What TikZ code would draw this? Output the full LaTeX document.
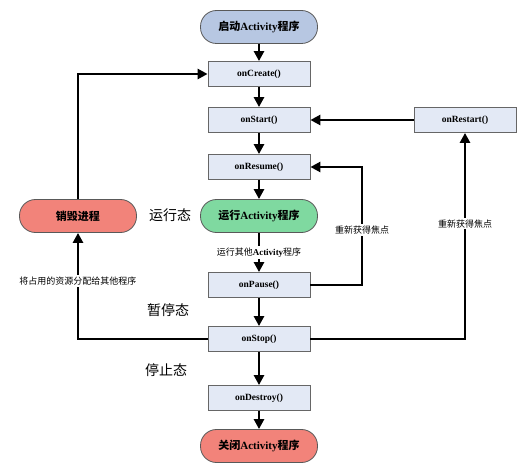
\documentclass[tikz,border=0pt]{standalone}
\usepackage{fontspec}
\setmainfont{Liberation Serif}
\newfontfamily\cjk{Noto Sans CJK SC}
\usetikzlibrary{arrows.meta}
\definecolor{procfill}{HTML}{E3E9F5}
\definecolor{bluepill}{HTML}{B7C7E2}
\definecolor{greenpill}{HTML}{7FD9A0}
\definecolor{redpill}{HTML}{F2837A}
\tikzset{proc/.style={draw=black!60,thick,fill=procfill,minimum width=102pt,minimum height=25pt,font=\bfseries\fontsize{9.5}{10}\selectfont},
pill/.style={draw=black!65,thick,fill=#1,rounded corners=16pt,minimum width=117pt,minimum height=33pt,font=\bfseries\fontsize{11}{12}\selectfont},
arr/.style={-{Triangle[length=10pt,width=10pt]},line width=2.5pt},
lbl/.style={fill=white,inner sep=1.5pt,font=\fontsize{9}{10}\selectfont},
state/.style={font=\fontsize{14}{15}\selectfont}}

\begin{document}
\begin{tikzpicture}[x=1pt,y=-1pt]
\useasboundingbox (0,0) rectangle (531,476);
\node[pill=bluepill] (begin) at (259,27) {{\cjk 启动}Activity{\cjk 程序}};
\node[proc] (create) at (259,74) {onCreate()};
\node[proc] (onstart) at (259,120) {onStart()};
\node[proc] (resume) at (259,167) {onResume()};
\node[pill=greenpill] (run) at (259,216) {{\cjk 运行}Activity{\cjk 程序}};
\node[proc] (pause) at (259,285) {onPause()};
\node[proc] (stop) at (259,339) {onStop()};
\node[proc] (destroy) at (259,398) {onDestroy()};
\node[pill=redpill] (close) at (259,446) {{\cjk 关闭}Activity{\cjk 程序}};
\node[proc] (restart) at (465,120) {onRestart()};
\node[pill=redpill] (kill) at (78,216) {\cjk 销毁进程};
\node[state] (runstate) at (170,215) {\cjk 运行态};
\node[state] (pausestate) at (168,310) {\cjk 暂停态};
\node[state] (stopstate) at (166,370) {\cjk 停止态};
\coordinate (focus) at (362,230);
\coordinate (free) at (78,281);

\draw[arr] (begin) -- (create);
\draw[arr] (create) -- (onstart);
\draw[arr] (onstart) -- (resume);
\draw[arr] (resume) -- (run);
\draw[arr] (run) -- node[lbl]{{\cjk 运行其他}\textbf{Activity}{\cjk 程序}} (pause);
\draw[arr] (pause) -- (stop);
\draw[arr] (stop) -- (destroy);
\draw[arr] (destroy) -- (close);
\draw[arr] (restart) -- (onstart);
\draw[arr] (pause) -| (focus) node[lbl]{\cjk 重新获得焦点} |- (resume);
\draw[arr] (stop) -| node[lbl,pos=0.78]{\cjk 重新获得焦点} (restart);
\draw[arr] (stop) -| (free) node[lbl]{\cjk 将占用的资源分配给其他程序} -- (kill);
\draw[arr] (kill) |- (create);
\end{tikzpicture}
\end{document}
